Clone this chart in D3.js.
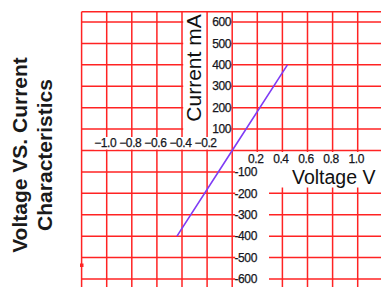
<!DOCTYPE html>
<html>
<head>
<meta charset="utf-8">
<script src="https://cdn.jsdelivr.net/npm/d3@7"></script>
<style>
  html, body { margin:0; padding:0; background:#fff; }
  svg { display:block; font-family:"Liberation Sans", Arial, sans-serif; }
</style>
</head>
<body>
<div class="canvas"></div>
<script>
// values
const voltage = [-0.44, 0, 0.44]
const current = [-400, 0, 400]

const xTicksNeg = [-1.0, -0.8, -0.6, -0.4, -0.2]
const xTicksPos = [0.2, 0.4, 0.6, 0.8, 1.0]
const yTicksPos = [100, 200, 300, 400, 500, 600]
const yTicksNeg = [-100, -200, -300, -400, -500, -600]

const xGrid = [-1.2, -1.0, -0.8, -0.6, -0.4, -0.2, 0, 0.2, 0.4, 0.6, 0.8, 1.0, 1.2]
const yGrid = [-700, -600, -500, -400, -300, -200, -100, 0, 100, 200, 300, 400, 500, 600]

const dims = {width:381, height:287}
const red = '#ff2323'

const svg = d3.select('.canvas')
    .append('svg')
    .attr('width', dims.width)
    .attr('height', dims.height)

const x = d3.scaleLinear().domain([-1.2, 1.2]).range([81.6, 382.8])
const y = d3.scaleLinear().domain([-600, 600]).range([279, 22])
const topY = 11.7

// horizontal grid
svg.append('g').selectAll('line')
    .data(yGrid)
    .enter().append('line')
    .attr('x1', x(-1.2)).attr('x2', x(1.2))
    .attr('y1', d => y(d)).attr('y2', d => y(d))
    .attr('stroke', red).attr('stroke-width', 1.5)

// white boxes behind the axis texts
const boxes = [
    {x0: 183.2, x1: 231.6, y0: topY + 1, y1: 140},   // Current mA + upper tick labels
    {x0: 235.5, x1: 383, y0: 152, y1: 187.5},      // positive x labels + Voltage V
    {x0: 235.5, x1: 269, y0: 152, y1: 287}          // lower tick labels column
]
svg.append('g').selectAll('rect')
    .data(boxes)
    .enter().append('rect')
    .attr('x', d => d.x0).attr('y', d => d.y0)
    .attr('width', d => d.x1 - d.x0).attr('height', d => d.y1 - d.y0)
    .attr('fill', '#fff')

// vertical grid
svg.append('g').selectAll('line')
    .data(xGrid)
    .enter().append('line')
    .attr('x1', d => x(d)).attr('x2', d => x(d))
    .attr('y1', topY).attr('y2', dims.height)
    .attr('stroke', red).attr('stroke-width', 1.5)

svg.append('line')
    .attr('x1', x(-1.2)).attr('x2', x(1.2))
    .attr('y1', topY).attr('y2', topY)
    .attr('stroke', red).attr('stroke-width', 1.5)

// the small red speck on the left edge
svg.append('rect')
    .attr('x', 80).attr('y', 263.5).attr('width', 3.5).attr('height', 3.5)
    .attr('fill', red)

// re-cover the vertical lines hidden by the lower boxes
svg.append('g').selectAll('rect')
    .data(boxes.slice(1))
    .enter().append('rect')
    .attr('x', d => d.x0).attr('y', d => d.y0)
    .attr('width', d => d.x1 - d.x0).attr('height', d => d.y1 - d.y0)
    .attr('fill', '#fff')

// tick labels
const fmt = d3.format('.1f')
const tick = {size:12, fill:'#151520'}

const styleTick = sel => sel
    .attr('font-size', tick.size).attr('fill', tick.fill)
    .attr('stroke', tick.fill).attr('stroke-width', 0.25)
    .attr('letter-spacing', -0.4)

const negX = svg.append('g').selectAll('g')
    .data(xTicksNeg)
    .enter().append('g')
    .attr('transform', d => `translate(${x(d) - 1.5},147)`)
negX.append('rect')
    .attr('x', -11).attr('y', -10).attr('width', 22).attr('height', 12.5)
    .attr('fill', '#fff')
negX.append('text')
    .attr('text-anchor', 'middle')
    .call(styleTick)
    .text(d => fmt(d))

svg.append('g').selectAll('text')
    .data(xTicksPos)
    .enter().append('text')
    .attr('x', d => x(d) - 1.5).attr('y', 162.5)
    .attr('text-anchor', 'middle')
    .call(styleTick)
    .text(d => fmt(d))

svg.append('g').selectAll('text')
    .data(yTicksPos)
    .enter().append('text')
    .attr('x', 231).attr('y', d => y(d) + 4.2)
    .attr('text-anchor', 'end')
    .call(styleTick)
    .text(d => d)

svg.append('g').selectAll('text')
    .data(yTicksNeg)
    .enter().append('text')
    .attr('x', 234.5).attr('y', d => y(d) + 4.2)
    .call(styleTick)
    .text(d => d)

// axis titles
svg.append('text')
    .attr('transform', 'translate(200.5,68) rotate(-90)')
    .attr('text-anchor', 'middle')
    .attr('font-size', 21).attr('fill', '#111')
    .text('Current mA')

svg.append('text')
    .attr('x', 292).attr('y', 183.5)
    .attr('font-size', 19.5).attr('fill', '#111')
    .text('Voltage V')

// chart title, two lines rotated
const title = svg.append('text')
    .attr('transform', 'translate(0,155) rotate(-90)')
    .attr('text-anchor', 'middle')
    .attr('font-size', 21).attr('font-weight', 'bold').attr('fill', '#1a1a1a')
title.append('tspan').attr('x', 0).attr('y', 26.5).text('Voltage VS. Current')
title.append('tspan').attr('x', 0).attr('y', 51.5).text('Characteristics')

// V-I line
const line = d3.line()
    .x((d, i) => x(voltage[i]))
    .y(d => y(d))

svg.append('path')
    .datum(current)
    .attr('d', line)
    .attr('fill', 'none')
    .attr('stroke', '#7f3cf5')
    .attr('stroke-width', 1.6)
</script>
</body>
</html>
